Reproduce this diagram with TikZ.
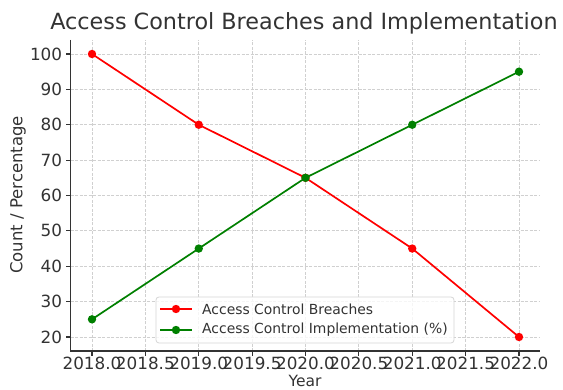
\documentclass[tikz,border=0pt]{standalone}
\usepackage{fontspec}
\setmainfont{DejaVu Sans}
\usetikzlibrary{calc}
\definecolor{axisgray}{HTML}{333333}
\definecolor{gridgray}{HTML}{D0D0D0}
\definecolor{legendgray}{HTML}{D6D6D6}
\definecolor{mplgreen}{HTML}{008000}
\tikzset{
  gridline/.style={gridgray, line width=0.8pt, dash pattern=on 3pt off 1.5pt},
  spine/.style={axisgray, line width=1.4pt},
  tickmark/.style={axisgray, line width=1.1pt},
  ticklbl/.style={text=axisgray, font=\fontsize{16.8}{19}\selectfont, inner sep=0pt},
  breach/.style={red, line width=1.7pt},
  implem/.style={mplgreen, line width=1.7pt},
}

\begin{document}
\begin{tikzpicture}[x=1pt,y=1pt]
			%%%%% START %%%%%
			\useasboundingbox[fill=white] (0,0) rectangle (563,390);
			
			\node[text=axisgray, font=\fontsize{22.3}{25}\selectfont] (title) at (304,367) {Access Control Breaches and Implementation};
			\node[text=axisgray, font=\fontsize{16.5}{19}\selectfont, rotate=90] (ylab) at (18,195) {Count / Percentage};
			\node[text=axisgray, font=\fontsize{15.5}{18}\selectfont, anchor=base, inner sep=0pt] (xlab) at (305,3.5) {Year};
			
			\begin{scope}[shift={(92,-17.75)}, x=106.75pt, y=3.5375pt]
			
			% grid
			\draw[gridline] (0,16) -- (0,104);
			\draw[gridline] (0.5,16) -- (0.5,104);
			\draw[gridline] (1,16) -- (1,104);
			\draw[gridline] (1.5,16) -- (1.5,104);
			\draw[gridline] (2,16) -- (2,104);
			\draw[gridline] (2.5,16) -- (2.5,104);
			\draw[gridline] (3,16) -- (3,104);
			\draw[gridline] (3.5,16) -- (3.5,104);
			\draw[gridline] (4,16) -- (4,104);
			\draw[gridline] (-0.2,20) -- (4.2,20);
			\draw[gridline] (-0.2,30) -- (4.2,30);
			\draw[gridline] (-0.2,40) -- (4.2,40);
			\draw[gridline] (-0.2,50) -- (4.2,50);
			\draw[gridline] (-0.2,60) -- (4.2,60);
			\draw[gridline] (-0.2,70) -- (4.2,70);
			\draw[gridline] (-0.2,80) -- (4.2,80);
			\draw[gridline] (-0.2,90) -- (4.2,90);
			\draw[gridline] (-0.2,100) -- (4.2,100);
			
			% axes
			\draw[spine] (-0.2,104) -- (-0.2,16) -- (4.2,16);
			
			\draw[tickmark] (0,16) -- ++(0,-5pt) node[ticklbl, below=0pt] (x0) {2018.0};
			\draw[tickmark] (0.5,16) -- ++(0,-5pt) node[ticklbl, below=0pt] (x1) {2018.5};
			\draw[tickmark] (1,16) -- ++(0,-5pt) node[ticklbl, below=0pt] (x2) {2019.0};
			\draw[tickmark] (1.5,16) -- ++(0,-5pt) node[ticklbl, below=0pt] (x3) {2019.5};
			\draw[tickmark] (2,16) -- ++(0,-5pt) node[ticklbl, below=0pt] (x4) {2020.0};
			\draw[tickmark] (2.5,16) -- ++(0,-5pt) node[ticklbl, below=0pt] (x5) {2020.5};
			\draw[tickmark] (3,16) -- ++(0,-5pt) node[ticklbl, below=0pt] (x6) {2021.0};
			\draw[tickmark] (3.5,16) -- ++(0,-5pt) node[ticklbl, below=0pt] (x7) {2021.5};
			\draw[tickmark] (4,16) -- ++(0,-5pt) node[ticklbl, below=0pt] (x8) {2022.0};
			
			\draw[tickmark] (-0.2,20) -- ++(-5pt,0) node[ticklbl, left=3pt] (y20) {20};
			\draw[tickmark] (-0.2,30) -- ++(-5pt,0) node[ticklbl, left=3pt] (y30) {30};
			\draw[tickmark] (-0.2,40) -- ++(-5pt,0) node[ticklbl, left=3pt] (y40) {40};
			\draw[tickmark] (-0.2,50) -- ++(-5pt,0) node[ticklbl, left=3pt] (y50) {50};
			\draw[tickmark] (-0.2,60) -- ++(-5pt,0) node[ticklbl, left=3pt] (y60) {60};
			\draw[tickmark] (-0.2,70) -- ++(-5pt,0) node[ticklbl, left=3pt] (y70) {70};
			\draw[tickmark] (-0.2,80) -- ++(-5pt,0) node[ticklbl, left=3pt] (y80) {80};
			\draw[tickmark] (-0.2,90) -- ++(-5pt,0) node[ticklbl, left=3pt] (y90) {90};
			\draw[tickmark] (-0.2,100) -- ++(-5pt,0) node[ticklbl, left=3pt] (y100) {100};
			
			% data
			\coordinate (b18) at (0,100);
			\coordinate (b19) at (1,80);
			\coordinate (b20) at (2,65);
			\coordinate (b21) at (3,45);
			\coordinate (b22) at (4,20);
			\coordinate (i18) at (0,25);
			\coordinate (i19) at (1,45);
			\coordinate (i20) at (2,65);
			\coordinate (i21) at (3,80);
			\coordinate (i22) at (4,95);
			
			\draw[breach] (b18) -- (b19) -- (b20) -- (b21) -- (b22);
			\fill[red] (b18) circle (4.2pt);
			\fill[red] (b19) circle (4.2pt);
			\fill[red] (b20) circle (4.2pt);
			\fill[red] (b21) circle (4.2pt);
			\fill[red] (b22) circle (4.2pt);
			
			\draw[implem] (i18) -- (i19) -- (i20) -- (i21) -- (i22);
			\fill[mplgreen] (i18) circle (4.2pt);
			\fill[mplgreen] (i19) circle (4.2pt);
			\fill[mplgreen] (i20) circle (4.2pt);
			\fill[mplgreen] (i21) circle (4.2pt);
			\fill[mplgreen] (i22) circle (4.2pt);
			
			\end{scope}
			
			% legend
			\draw[legendgray, line width=0.8pt, fill=white, fill opacity=0.8, rounded corners=3pt] (156,47) rectangle (454,93);
			\coordinate (lb) at (176,81);
			\coordinate (li) at (176,60);
			\draw[breach] ($(lb)+(-16,0)$) -- ($(lb)+(16,0)$);
			\fill[red] (lb) circle (4.2pt);
			\draw[implem] ($(li)+(-16,0)$) -- ($(li)+(16,0)$);
			\fill[mplgreen] (li) circle (4.2pt);
			\node[text=axisgray, font=\fontsize{13.9}{16}\selectfont, anchor=west, inner sep=0pt] (lbtxt) at (202,81) {Access Control Breaches};
			\node[text=axisgray, font=\fontsize{13.9}{16}\selectfont, anchor=west, inner sep=0pt] (litxt) at (202,60) {Access Control Implementation (\%)};
			
			%%%%% END %%%%%
\end{tikzpicture}
\end{document}
